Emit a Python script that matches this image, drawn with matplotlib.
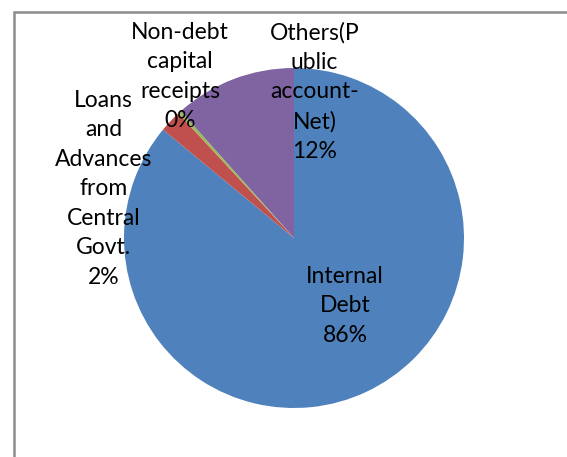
import matplotlib.pyplot as plt
from matplotlib.patches import Rectangle

plt.rcParams['font.family'] = ['Lato', 'DejaVu Sans']

# share of each receipt head, percent
labels = ["Internal\nDebt", "Loans\nand\nAdvances\nfrom\nCentral\nGovt.",
          "Non-debt\ncapital\nreceipts", "Others(P\nublic\naccount-\nNet)"]
values = [86.0, 2.1, 0.3, 11.6]
colors = ["#4F81BD", "#C0504D", "#9BBB59", "#8064A2"]

# label centres, in pie-radius units from the centre
label_pos = [(0.30, -0.40), (-1.12, 0.29), (-0.67, 0.95), (0.12, 0.86)]

W, H = 567, 457
cx, cy, r = 294, 238, 170

fig = plt.figure(figsize=(W / 100, H / 100), dpi=100)
ax = fig.add_axes([(cx - r) / W, (H - cy - r) / H, 2 * r / W, 2 * r / H])

wedges, _ = ax.pie(values, colors=colors, startangle=90, counterclock=False,
                   radius=1, wedgeprops=dict(linewidth=0))
ax.set_xlim(-1, 1)
ax.set_ylim(-1, 1)
ax.set_aspect("equal")
ax.axis("off")

for name, v, (x, y) in zip(labels, values, label_pos):
    ax.text(x, y, f"{name}\n{v:.0f}%", ha="center", va="center",
            fontsize=16.5, linespacing=1.5, color="black")

# chart frame (only left and top edges fall inside the image)
fig.add_artist(Rectangle((13.5 / W, -0.1), 1.2, (H - 12.5) / H + 0.1,
                         transform=fig.transFigure, fill=False,
                         edgecolor="#8c8c8c", linewidth=1.8))

fig.savefig("out.png", dpi=100)
